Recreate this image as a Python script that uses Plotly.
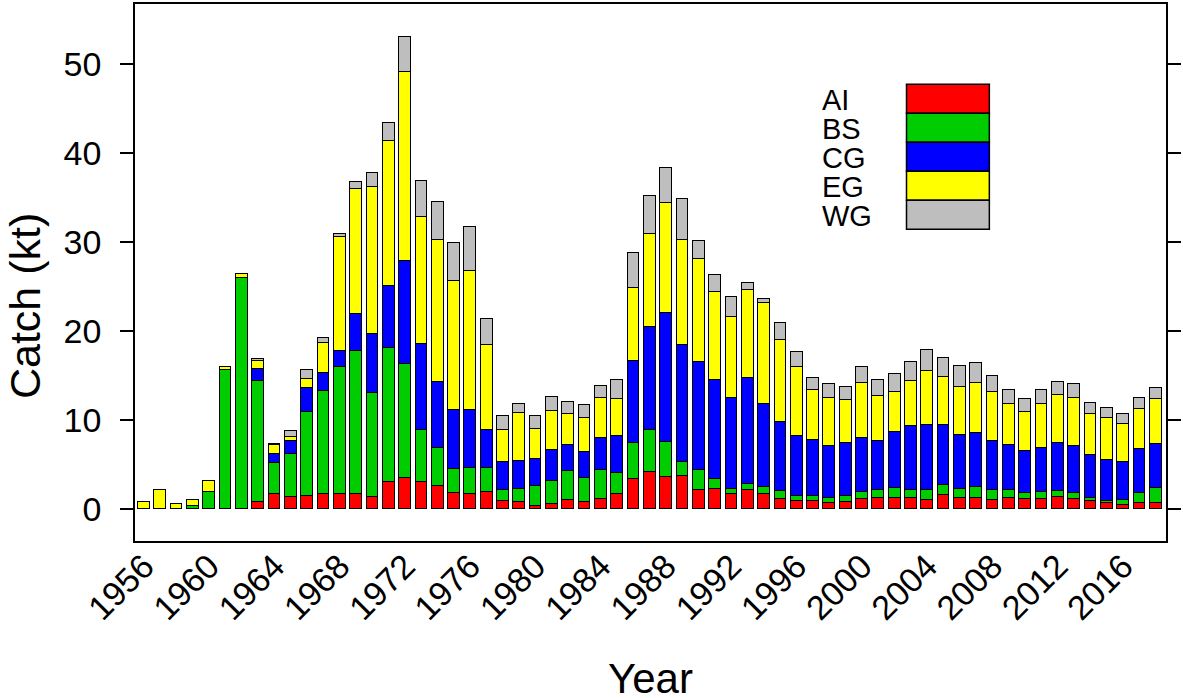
import plotly.graph_objects as go

years = list(range(1956, 2019))

AI = [0, 0, 0, 0, 0, 0, 0, 0.7, 1.6, 1.26, 1.38, 1.68, 1.7, 1.7, 1.26, 3.0, 3.5, 3.0, 2.5, 1.8,
      1.7, 1.9, 0.86, 0.78, 0.3, 0.56, 1.0, 0.7, 1.1, 1.6, 3.3, 4.1, 3.6, 3.7, 2.1, 2.2,
      1.6, 2.1, 1.7, 1.1, 0.86, 0.82, 0.63, 0.7, 1.1, 1.2, 1.15, 1.15, 1.0, 1.57, 1.15, 1.15,
      0.97, 1.2, 1.1, 1.08, 1.3, 1.1, 0.9, 0.6, 0.45, 0.64, 0.67]
BS = [0, 0, 0, 0.3, 1.9, 15.6, 26.0, 13.65, 3.5, 4.9, 9.45, 11.6, 14.3, 16.0, 11.75, 15.06, 12.8, 5.86, 4.3, 2.7,
      2.9, 2.7, 1.2, 1.42, 2.2, 2.57, 3.25, 2.73, 3.3, 2.43, 4.1, 4.8, 3.9, 1.5, 2.3, 1.15,
      0.56, 0.7, 0.7, 0.9, 0.56, 0.56, 0.52, 0.68, 0.8, 0.85, 1.16, 0.97, 1.05, 1.1, 1.1, 1.27,
      1.08, 0.86, 0.7, 0.75, 0.7, 0.67, 0.3, 0.22, 0.52, 1.1, 1.68]
CG = [0, 0, 0, 0, 0, 0, 0, 1.35, 1.0, 1.5, 2.7, 2.0, 1.7, 4.2, 6.7, 7.0, 11.6, 9.7, 7.5, 6.55,
      6.5, 4.3, 3.15, 3.17, 3.06, 3.47, 2.9, 2.97, 3.5, 4.2, 9.2, 11.6, 14.5, 13.2, 12.06, 11.15,
      10.3, 11.9, 9.4, 7.8, 6.8, 6.3, 5.95, 5.97, 6.1, 5.55, 6.34, 7.16, 7.35, 6.7, 6.05, 6.12,
      5.6, 5.1, 4.7, 4.96, 5.4, 5.33, 4.85, 4.62, 4.29, 4.93, 4.95]
EG = [0.8, 2.1, 0.5, 0.7, 1.2, 0.4, 0.4, 0.9, 1.1, 0.36, 1.04, 3.4, 12.9, 14.05, 16.5, 16.3, 21.2, 14.3, 15.9, 14.6,
      15.7, 9.5, 3.7, 5.4, 3.4, 4.36, 3.45, 3.8, 4.55, 4.1, 8.2, 10.45, 12.45, 11.8, 11.65, 9.9,
      9.1, 9.9, 11.3, 9.2, 7.7, 5.7, 5.4, 4.85, 6.1, 5.05, 4.47, 5.07, 6.15, 5.5, 5.37, 5.63,
      5.44, 4.62, 4.36, 4.95, 5.4, 5.4, 4.6, 4.76, 4.24, 4.54, 5.0]
WG = [0, 0, 0, 0, 0, 0, 0, 0.3, 0.1, 0.72, 1.0, 0.5, 0.3, 0.8, 1.6, 2.05, 3.95, 4.0, 4.3, 4.3,
      4.85, 3.0, 1.5, 1.05, 1.45, 1.6, 1.4, 1.5, 1.4, 2.2, 4.0, 4.2, 3.9, 4.6, 2.05, 1.95,
      2.3, 0.8, 0.5, 1.9, 1.7, 1.35, 1.5, 1.5, 1.8, 1.8, 2.06, 2.2, 2.3, 2.1, 2.35, 2.23,
      1.79, 1.6, 1.5, 1.56, 1.5, 1.5, 1.27, 1.1, 1.16, 1.27, 1.3]

series_names = ["AI", "BS", "CG", "EG", "WG"]
series_values = [AI, BS, CG, EG, WG]
colors = ["#FF0000", "#00CD00", "#0000FF", "#FFFF00", "#BEBEBE"]

y_ticks = [0, 10, 20, 30, 40, 50]
x_ticks = list(range(1956, 2017, 4))

FONT = "Arial, Liberation Sans, sans-serif"

fig = go.Figure()
for name, vals, col in zip(series_names, series_values, colors):
    fig.add_trace(go.Bar(
        x=years, y=vals, name=name, width=0.72,
        marker=dict(color=col, line=dict(color="black", width=1.5)),
        showlegend=False,
    ))

# plot area in pixels: left 135, right 1168, top 2, bottom 541
L, R, T, B = 135, 1168, 2, 541
W, H = R - L, B - T


def px(x):
    return (x - L) / W


def py(y):
    return (B - y) / H


shapes = []
annotations = []
# legend boxes and labels
box_x0, box_x1 = 908, 991
row_top = 82.5
row_h = 29.1
for i, (name, col) in enumerate(zip(series_names, colors)):
    y0 = row_top + i * row_h
    y1 = y0 + row_h
    shapes.append(dict(type="rect", xref="paper", yref="paper",
                       x0=px(box_x0), x1=px(box_x1), y0=py(y1), y1=py(y0),
                       fillcolor=col, line=dict(color="black", width=1.5)))
    annotations.append(dict(text=name, xref="paper", yref="paper",
                            x=px(821), y=py((y0 + y1) / 2 + 1.5),
                            xanchor="left", yanchor="middle", showarrow=False,
                            font=dict(family=FONT, size=29, color="black")))

annotations.append(dict(text="Year", xref="paper", yref="paper",
                        x=0.5, y=py(679), xanchor="center", yanchor="middle",
                        showarrow=False, font=dict(family=FONT, size=42, color="black")))
annotations.append(dict(text="Catch (kt)", xref="paper", yref="paper",
                        x=px(25), y=py(305), xanchor="center", yanchor="middle",
                        textangle=-90, showarrow=False,
                        font=dict(family=FONT, size=43, color="black")))

fig.update_layout(
    barmode="stack",
    width=1183, height=698,
    margin=dict(l=L, r=1183 - R, t=T, b=698 - B),
    paper_bgcolor="white", plot_bgcolor="white",
    font=dict(family=FONT, color="black"),
    shapes=shapes, annotations=annotations,
    bargap=0,
)
fig.update_xaxes(
    range=[1955.45, 2018.63], tickmode="array", tickvals=x_ticks,
    ticktext=[str(v) for v in x_ticks], tickangle=-45,
    tickfont=dict(family=FONT, size=34, color="black"),
    ticks="", showgrid=False, zeroline=False,
    showline=True, linecolor="black", linewidth=1.5, mirror=True,
    ticklabelstandoff=-10,
)
fig.update_yaxes(
    range=[-3.64, 56.8], tickmode="array", tickvals=y_ticks,
    tickfont=dict(family=FONT, size=34, color="black"),
    ticks="outside", ticklen=13, tickwidth=1.5, tickcolor="black",
    showgrid=False, zeroline=False,
    showline=True, linecolor="black", linewidth=1.5, mirror="ticks",
    ticklabelstandoff=12,
)

fig.write_html(
    "out.html",
    config={"displayModeBar": False},
    post_script="document.body.style.margin='0';document.body.style.overflow='hidden';",
)
